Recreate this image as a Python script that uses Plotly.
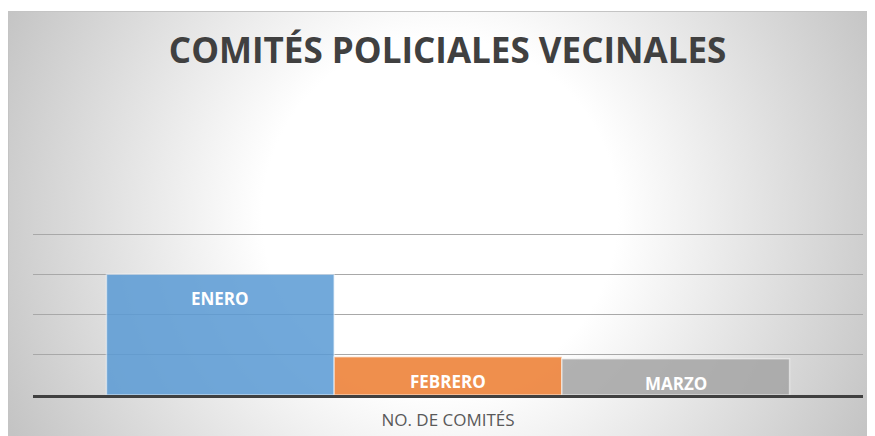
import base64
import plotly.graph_objects as go

# ---- data ----
category = ["NO. DE COMITÉS"]
series_names = ["ENERO", "FEBRERO", "MARZO"]
series_values = [30, 9.5, 9]
series_colors = ["#5B9BD5", "#ED7D31", "#A5A5A5"]
title_text = "COMITÉS POLICIALES VECINALES"

# page body has an 8px margin, so the figure is sized to fit the window
W, H = 867, 428
ML, MR, MT, MB = 25, 12, 224, 41
BARGAP = 0.177

fig = go.Figure()
for name, val, col in zip(series_names, series_values, series_colors):
    fig.add_trace(go.Bar(
        x=category, y=[val], name=name,
        marker=dict(color=col, opacity=0.86,
                    line=dict(color="rgba(255,255,255,0.55)", width=1.5)),
        hoverinfo="skip",
    ))

# labels at inside-end of each bar, positioned via the bar geometry
n = len(series_names)
w = (1 - BARGAP) / n
for i, (name, val) in enumerate(zip(series_names, series_values)):
    fig.add_annotation(
        x=(i - (n - 1) / 2) * w, y=val, xref="x", yref="y",
        text=f"<b>{name}</b>", showarrow=False, yanchor="top", yshift=-11,
        font=dict(family="Open Sans", size=17, color="white"),
    )

# radial gradient background (chart area)
top_off = 3
bw, bh = W, H - top_off
svg = f'''<svg xmlns="http://www.w3.org/2000/svg" width="{bw}" height="{bh}" viewBox="0 0 {bw} {bh}" preserveAspectRatio="none">
<defs><radialGradient id="g" gradientUnits="userSpaceOnUse" cx="432" cy="204" r="480">
<stop offset="0" stop-color="#ffffff"/><stop offset="0.37" stop-color="#ffffff"/>
<stop offset="1" stop-color="#c4c4c4"/></radialGradient></defs>
<rect x="0" y="0" width="{bw}" height="{bh}" fill="url(#g)"/>
<line x1="0" y1="0.5" x2="{bw}" y2="0.5" stroke="#c4c4c4" stroke-width="1"/>
<line x1="0.5" y1="0" x2="0.5" y2="{bh}" stroke="#c4c4c4" stroke-width="1"/>
</svg>'''
uri = "data:image/svg+xml;base64," + base64.b64encode(svg.encode()).decode()
pw, ph = W - ML - MR, H - MT - MB
fig.add_layout_image(
    source=uri, xref="paper", yref="paper",
    x=-ML / pw, y=(H - MB - top_off) / ph,
    sizex=bw / pw, sizey=bh / ph,
    xanchor="left", yanchor="top", sizing="stretch", layer="below",
)

fig.update_layout(
    width=W, height=H,
    margin=dict(l=ML, r=MR, t=MT, b=MB, autoexpand=False),
    paper_bgcolor="white", plot_bgcolor="rgba(0,0,0,0)",
    barmode="group", bargap=BARGAP, bargroupgap=0,
    showlegend=False,
    title=dict(text=f"<b>{title_text}</b>", x=0.507, xanchor="center",
               y=1 - 43 / H, yanchor="middle",
               font=dict(family="Open Sans", size=35, color="#404040")),
    xaxis=dict(showline=True, linecolor="#404040", linewidth=2.6,
               ticks="", showgrid=False, ticklabelstandoff=8, automargin=False,
               tickfont=dict(family="Open Sans", size=17, color="#595959")),
    yaxis=dict(range=[0, 40.5], dtick=10, showticklabels=False, automargin=False,
               showgrid=True, gridcolor="#a8a8a8", gridwidth=1,
               zeroline=False, showline=False),
    font=dict(family="Open Sans"),
)

fig.write_html("out.html")
